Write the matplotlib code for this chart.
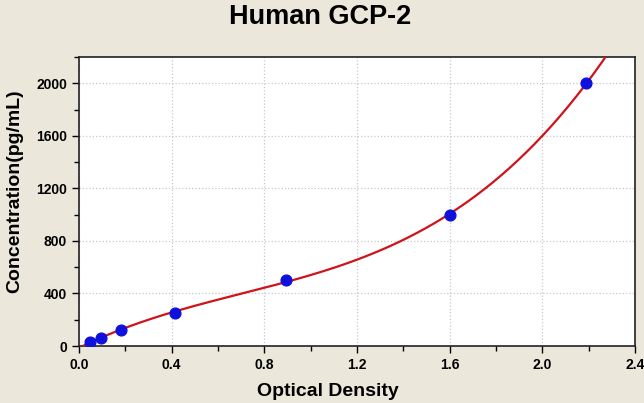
import numpy as np
import matplotlib.pyplot as plt
from matplotlib.ticker import MultipleLocator

# standard points
od = [0.047, 0.095, 0.18, 0.414, 0.893, 1.60, 2.19]
conc = [31.25, 62.5, 125, 250, 500, 1000, 2000]

title = "Human GCP-2"
x_label = "Optical Density"
y_label = "Concentration(pg/mL)"

BG = "#ebe7da"

plt.rcParams["font.family"] = ["Liberation Sans", "DejaVu Sans"]

fig = plt.figure(figsize=(6.44, 4.03), dpi=100, facecolor=BG)
ax = fig.add_axes([0.1227, 0.1414, 0.8633, 0.7172])
ax.set_facecolor("white")

# fitted curve (cubic through the standards)
coef = np.polyfit(od, conc, 3)
xs = np.linspace(0, 2.4, 400)
ys = np.polyval(coef, xs)
ax.plot(xs, ys, color="#d0121b", lw=1.6, zorder=3)
ax.scatter(od, conc, s=60, color="#1010dd", zorder=4)

ax.set_xlim(0, 2.4)
ax.set_ylim(0, 2200)
ax.xaxis.set_major_locator(MultipleLocator(0.4))
ax.xaxis.set_minor_locator(MultipleLocator(0.2))
ax.yaxis.set_major_locator(MultipleLocator(400))
ax.yaxis.set_minor_locator(MultipleLocator(200))
ax.xaxis.set_major_formatter(plt.FuncFormatter(lambda v, p: f"{v:.1f}"))
ax.grid(True, which="major", color="#c8c8c8", ls=":", lw=0.9)
ax.tick_params(which="major", length=5, width=1, direction="out", labelsize=10)
ax.tick_params(which="minor", length=3.5, width=1, direction="out")
for lab in ax.get_xticklabels() + ax.get_yticklabels():
    lab.set_fontweight("bold")
for s in ax.spines.values():
    s.set_linewidth(1.2)
    s.set_color("#222222")

ax.set_xlabel(x_label, fontsize=14, fontweight="bold", va="center")
ax.xaxis.set_label_coords(0.448, -0.159)
ax.set_ylabel(y_label, fontsize=14, fontweight="bold", va="center")
ax.yaxis.set_label_coords(-0.115, 0.536)
fig.text(0.497, 0.958, title, ha="center", va="center", fontsize=19.5, fontweight="bold")

fig.savefig("out.png", dpi=100, facecolor=BG)
